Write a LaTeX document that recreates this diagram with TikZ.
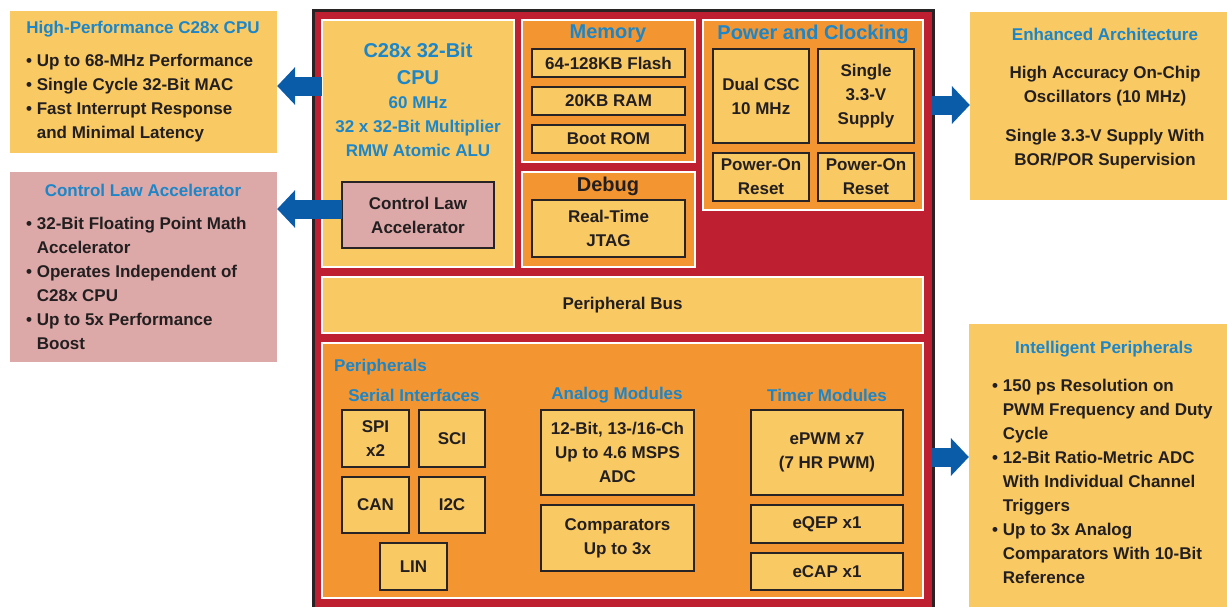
\documentclass[tikz,border=0pt]{standalone}
\usepackage{fontspec}
\setmainfont{Liberation Sans}
\usetikzlibrary{fit,arrows.meta}

\definecolor{chipred}{RGB}{190,32,50}
\definecolor{chipedge}{RGB}{40,36,38}
\definecolor{blkorange}{RGB}{243,150,50}
\definecolor{blkyellow}{RGB}{249,201,99}
\definecolor{clapink}{RGB}{220,168,168}
\definecolor{titleblue}{RGB}{28,134,200}
\definecolor{arrowblue}{RGB}{10,92,168}
\definecolor{txtdark}{RGB}{35,31,32}

\newcommand{\boxfont}{\fontsize{17}{24}\selectfont\bfseries}
\newcommand{\headfont}{\fontsize{20}{27}\selectfont\bfseries}
\newcommand{\bl}{\textbullet\ }
\newcommand{\ind}{\phantom{\textbullet\ }}

\tikzset{
  chipbox/.style={draw=chipedge, line width=3pt, fill=chipred, inner sep=0pt},
  yblock/.style={draw=white, line width=2pt, fill=blkyellow, inner sep=0pt},
  oblock/.style={yblock, fill=blkorange},
  subbox/.style={draw=chipedge, line width=1.2pt, fill=blkyellow, inner sep=0pt},
  boxtxt/.style={text=txtdark, font=\boxfont, inner sep=0pt, align=center},
  sidebox/.style={fill=blkyellow, inner sep=0pt},
  bluetitle/.style={text=titleblue, font=\boxfont, inner sep=0pt, align=center},
  bighead/.style={text=titleblue, font=\headfont, inner sep=0pt, align=center},
  bodytext/.style={text=txtdark, font=\boxfont, inner sep=0pt, align=left},
  bigarrow/.style={arrowblue, line width=19pt, -{Triangle[length=18pt,width=37pt]}}
}

\begin{document}
\begin{tikzpicture}[x=1pt,y=-1pt]
\useasboundingbox (0,0) rectangle (1227,606);

%side boxes, left
\node[sidebox, fit={(10,11)(277,153)}] (hpcpu) {};
\node[bluetitle] (hpcputitle) at (143,29) {High-Performance C28x CPU};
\node[bodytext, anchor=west] (hpcpubody) at (26,98)
  {\bl Up to 68-MHz Performance\\\bl Single Cycle 32-Bit MAC\\
   \bl Fast Interrupt Response\\\ind and Minimal Latency};

\node[sidebox, fill=clapink, fit={(10,172)(277,362)}] (claside) {};
\node[bluetitle] (clasidetitle) at (143,190) {Control Law Accelerator};
\node[bodytext, anchor=west] (clasidebody) at (26,283)
  {\bl 32-Bit Floating Point Math\\\ind Accelerator\\
   \bl Operates Independent of\\\ind C28x CPU\\
   \bl Up to 5x Performance\\\ind Boost};

%the chip
\node[chipbox, fit={(313,10)(933,650)}] (chip) {};

%cpu
\node[yblock, fit={(322,20)(514,267)}] (cpu) {};
\node[bighead] (cputitle) at (418,64) {C28x 32-Bit\\CPU};
\node[bluetitle] (cpuspec) at (418,127) {60 MHz\\32 x 32-Bit Multiplier\\RMW Atomic ALU};
\node[subbox, fill=clapink, fit={(342,182)(494,248)},
  label={[boxtxt]center:{Control Law\\Accelerator}}] (cla) {};

%memory
\node[oblock, fit={(522,20)(695,162)}] (mem) {};
\node[bighead] (memtitle) at (608,34) {Memory};
\node[subbox, fit={(532,49)(685,77)}, label={[boxtxt]center:64-128KB Flash}] (flash) {};
\node[subbox, fit={(532,87)(685,115)}, label={[boxtxt]center:20KB RAM}] (ram) {};
\node[subbox, fit={(532,125)(685,153)}, label={[boxtxt]center:Boot ROM}] (bootrom) {};

%debug
\node[oblock, fit={(522,172)(695,267)}] (dbg) {};
\node[bighead, text=txtdark] (dbgtitle) at (608,186) {Debug};
\node[subbox, fit={(532,200)(685,257)}, label={[boxtxt]center:{Real-Time\\JTAG}}] (jtag) {};

%power and clocking
\node[oblock, fit={(703,20)(923,210)}] (pwr) {};
\node[bighead] (pwrtitle) at (813,34) {Power and Clocking};
\node[subbox, fit={(713,49)(809,143)}, label={[boxtxt]center:{Dual CSC\\10 MHz}}] (csc) {};
\node[subbox, fit={(818,49)(914,143)}, label={[boxtxt]center:{Single\\3.3-V\\Supply}}] (supply) {};
\node[subbox, fit={(713,153)(809,201)}, label={[boxtxt]center:{Power-On\\Reset}}] (porA) {};
\node[subbox, fit={(818,153)(914,201)}, label={[boxtxt]center:{Power-On\\Reset}}] (porB) {};

%bus
\node[yblock, fit={(322,277)(923,333)}, label={[boxtxt]center:Peripheral Bus}] (pbus) {};

%peripherals
\node[oblock, fit={(322,343)(923,598)}] (periph) {};
\node[bluetitle, anchor=west] (periphtitle) at (334,367) {Peripherals};
\node[bluetitle] (sertitle) at (414,395) {Serial Interfaces};
\node[bluetitle] (anatitle) at (617,395) {Analog Modules};
\node[bluetitle] (tmrtitle) at (827,395) {Timer Modules};
\node[subbox, fit={(342,410)(409,467)}, label={[boxtxt]center:{SPI\\x2}}] (spi) {};
\node[subbox, fit={(419,410)(485,467)}, label={[boxtxt]center:SCI}] (sci) {};
\node[subbox, fit={(342,477)(409,533)}, label={[boxtxt]center:CAN}] (can) {};
\node[subbox, fit={(419,477)(485,533)}, label={[boxtxt]center:I2C}] (iic) {};
\node[subbox, fit={(380,543)(447,590)}, label={[boxtxt]center:LIN}] (lin) {};
\node[subbox, fit={(541,410)(694,495)},
  label={[boxtxt]center:{12-Bit, 13-/16-Ch\\Up to 4.6 MSPS\\ADC}}] (adc) {};
\node[subbox, fit={(541,505)(694,571)}, label={[boxtxt]center:{Comparators\\Up to 3x}}] (comp) {};
\node[subbox, fit={(751,410)(903,495)}, label={[boxtxt]center:{ePWM x7\\(7 HR PWM)}}] (epwm) {};
\node[subbox, fit={(751,505)(903,543)}, label={[boxtxt]center:eQEP x1}] (eqep) {};
\node[subbox, fit={(751,553)(903,590)}, label={[boxtxt]center:eCAP x1}] (ecap) {};

%side boxes, right
\node[sidebox, fit={(970,12)(1240,200)}] (enharch) {};
\node[bluetitle] (enhtitle) at (1105,34) {Enhanced Architecture};
\node[bodytext, align=center] (enhbody) at (1105,118)
  {High Accuracy On-Chip\\Oscillators (10 MHz)\\[15pt]
   Single 3.3-V Supply With\\BOR/POR Supervision};

\node[sidebox, fit={(969,324)(1240,650)}] (intper) {};
\node[bluetitle] (intpertitle) at (1104,349) {Intelligent Peripherals};
\node[bodytext, anchor=west] (intperbody) at (992,481)
  {\bl 150 ps Resolution on\\\ind PWM Frequency and Duty\\\ind Cycle\\
   \bl 12-Bit Ratio-Metric ADC\\\ind With Individual Channel\\\ind Triggers\\
   \bl Up to 3x Analog\\\ind Comparators With 10-Bit\\\ind Reference};

%arrows
\coordinate (cpuport) at (322,86);
\coordinate (claport) at (342,209);
\coordinate (enhport) at (932,105);
\coordinate (intport) at (932,457);
\draw[bigarrow] (cpuport) -- (cpuport -| hpcpu.east);
\draw[bigarrow] (claport) -- (claport -| claside.east);
\draw[bigarrow] (enhport) -- (enhport -| enharch.west);
\draw[bigarrow] (intport) -- (intport -| intper.west);
\end{tikzpicture}
\end{document}
